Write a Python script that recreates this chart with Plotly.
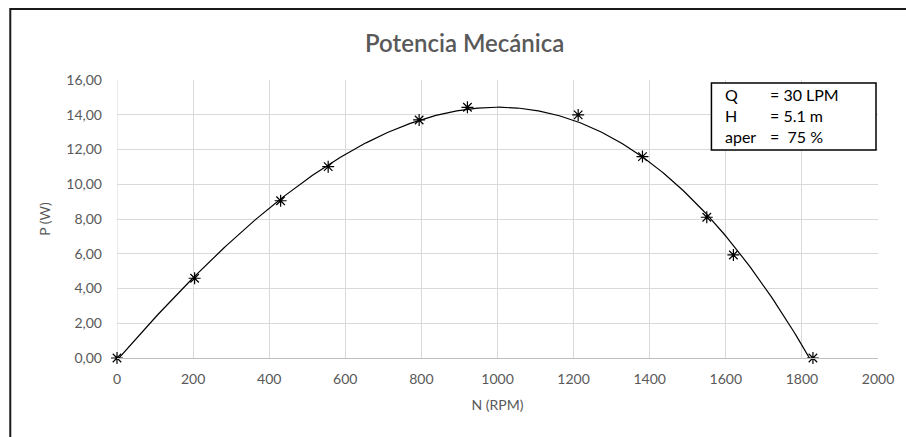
import numpy as np
import plotly.graph_objects as go

# Measured operating points: speed (RPM) vs mechanical power (W)
rpm = [0, 204, 430, 555, 794, 921, 1212, 1381, 1550, 1620, 1829]
power = [0.00, 4.59, 9.05, 11.01, 13.70, 14.43, 13.99, 11.59, 8.10, 5.93, 0.00]

x_ticks = [0, 200, 400, 600, 800, 1000, 1200, 1400, 1600, 1800, 2000]
y_ticks = [0, 2, 4, 6, 8, 10, 12, 14, 16]

info_keys = ["Q", "H", "aper"]
info_vals = ["= 30 LPM", "= 5.1 m", "=  75 %"]

# Figure geometry (pixels)
W, H = 906, 437
L, R, T, B = 117, 880, 80, 358


def px(x):
    return (x - L) / (R - L)


def py(y):
    return (B - y) / (B - T)


# Polynomial trend line (order 3) over the measured range
coef = np.polyfit(rpm, power, 3)
xs = np.linspace(min(rpm), max(rpm), 300)
ys = np.polyval(coef, xs)

fig = go.Figure()
fig.add_trace(go.Scatter(
    x=xs, y=ys, mode="lines",
    line=dict(color="#000000", width=1.2),
    hoverinfo="skip", showlegend=False, cliponaxis=False,
))
fig.add_trace(go.Scatter(
    x=rpm, y=power, mode="markers",
    marker=dict(symbol="asterisk-open", size=10, color="#000000",
                line=dict(color="#000000", width=1.2)),
    showlegend=False, cliponaxis=False,
))

gray = "#595959"
font = "Lato, 'Open Sans', sans-serif"

fig.update_layout(
    width=W, height=H,
    margin=dict(l=L, r=W - R, t=T, b=H - B),
    paper_bgcolor="white", plot_bgcolor="white",
    separators=",.",
    font=dict(family=font, color=gray, size=14),
    xaxis=dict(
        range=[0, 2000], tickvals=x_ticks, ticktext=[str(v) for v in x_ticks],
        showgrid=True, gridcolor="#d9d9d9", gridwidth=1,
        showline=True, linecolor="#bfbfbf", linewidth=1,
        zeroline=False, ticks="", ticklabelstandoff=8,
        tickfont=dict(size=14, color=gray),
        title=dict(text="N (RPM)", font=dict(size=14, color=gray), standoff=14),
    ),
    yaxis=dict(
        range=[0, 16], tickvals=y_ticks, tickformat=".2f",
        showgrid=True, gridcolor="#d9d9d9", gridwidth=1,
        showline=False, zeroline=False, ticks="", ticklabelstandoff=14,
        tickfont=dict(size=14, color=gray),
        title=dict(text="P (W)", font=dict(size=14, color=gray), standoff=12),
    ),
)

# Left vertical gridline at x = 0
fig.add_shape(type="line", xref="x", yref="y", x0=0, x1=0, y0=0, y1=16,
              line=dict(color="#d9d9d9", width=1), layer="below")

# Chart area frame
fig.add_shape(type="rect", xref="paper", yref="paper",
              x0=px(10), x1=px(930), y0=py(460), y1=py(9),
              line=dict(color="#1a1a1a", width=2), fillcolor="rgba(0,0,0,0)")

# Title
fig.add_annotation(text="Potencia Mecánica", xref="paper", yref="paper",
                   x=px(465), y=py(43), showarrow=False,
                   xanchor="center", yanchor="middle",
                   font=dict(family="Lato", size=24, color=gray, weight=600))

# Operating conditions box
fig.add_shape(type="rect", xref="paper", yref="paper",
              x0=px(713), x1=px(878), y0=py(150), y1=py(83),
              line=dict(color="#000000", width=1.5), fillcolor="white")
fig.add_annotation(text="<br>".join(info_keys), xref="paper", yref="paper",
                   x=px(726), y=py(115), showarrow=False, align="left",
                   xanchor="left", yanchor="middle", borderpad=0,
                   font=dict(family="Lato", size=16, color="#000000"))
fig.add_annotation(text="<br>".join(info_vals), xref="paper", yref="paper",
                   x=px(771), y=py(115), showarrow=False, align="left",
                   xanchor="left", yanchor="middle", borderpad=0,
                   font=dict(family="Lato", size=16, color="#000000"))

fig.write_html("out.html")
